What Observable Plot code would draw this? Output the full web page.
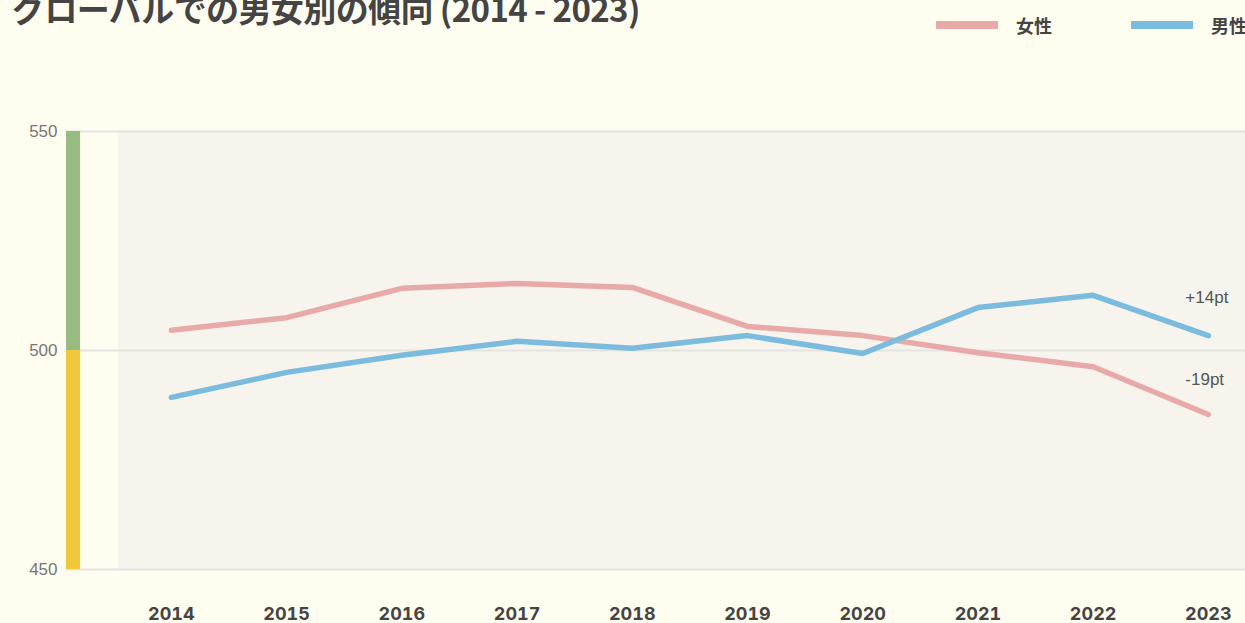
<!DOCTYPE html>
<html><head><meta charset="utf-8">
<script src="https://cdn.jsdelivr.net/npm/d3@7"></script>
<script src="https://cdn.jsdelivr.net/npm/@observablehq/plot@0.6"></script>
<style>
html,body{margin:0;padding:0;background:#fffdf0;overflow:hidden;width:1245px;height:623px;}
#wrap{position:relative;width:1245px;height:623px;overflow:hidden;font-family:"Noto Sans CJK JP","Noto Sans",sans-serif;}
#title{position:absolute;left:12px;top:-16px;font-size:33px;font-weight:700;color:#444;white-space:nowrap;letter-spacing:-0.6px;}
.leg{position:absolute;top:12px;display:flex;align-items:center;white-space:nowrap;}
.sw{width:62px;height:8px;margin-right:18px;}
.lt{font-size:18px;font-weight:700;color:#444;}
#chart{position:absolute;left:0;top:0;width:1262px;}
#chart svg{max-width:none !important;}
</style></head><body>
<div id="wrap">
<div id="title">グローバルでの男女別の傾向 (2014 - 2023)</div>
<div id="legend"></div>
<div id="chart"></div>
</div>
<script>
const years = [2014,2015,2016,2017,2018,2019,2020,2021,2022,2023];
const female = [504.6,507.5,514.2,515.3,514.4,505.5,503.4,499.5,496.3,485.4];
const male = [489.3,495.0,498.9,502.1,500.5,503.4,499.3,509.8,512.6,503.4];
const seriesNames = ["女性","男性"];
const seriesColors = ["#e8aaa8","#7bbbdd"];
const yTicks = [450,500,550];
const bandLo = [450,500];
const bandHi = [500,550];
const bandColors = ["#f0c93a","#97bb80"];
const endLabels = ["-19pt","+14pt"];

// legend
const legend = document.getElementById("legend");
const legLeft = [936,1131];
seriesNames.forEach((n,i)=>{
  const d=document.createElement("div");
  d.className="leg"; d.style.left=legLeft[i]+"px";
  d.innerHTML=`<div class="sw" style="background:${seriesColors[i]}"></div><span class="lt">${n}</span>`;
  legend.appendChild(d);
});

const rows = [];
years.forEach((y,i)=>{
  rows.push({year:y,value:female[i],series:seriesNames[0]});
  rows.push({year:y,value:male[i],series:seriesNames[1]});
});
const bands = bandLo.map((lo,i)=>({lo,hi:bandHi[i],color:bandColors[i]}));
const x0 = 2013.09, x1 = 2023.47;
const lastF = [{year:years[years.length-1],value:female[female.length-1],label:endLabels[0]}];
const lastM = [{year:years[years.length-1],value:male[male.length-1],label:endLabels[1]}];
const labelFont = "'Liberation Sans',Arial,sans-serif";

const plot = Plot.plot({
  width:1262, height:640,
  marginTop:131, marginBottom:71, marginLeft:66, marginRight:0,
  style:{background:"transparent",fontFamily:labelFont,maxWidth:"none"},
  x:{type:"linear",domain:[x0,x1],axis:null,label:null},
  y:{domain:[450,550],axis:null,label:null},
  color:{domain:seriesNames,range:seriesColors},
  marks:[
    Plot.rect([{}],{x1:2013.54,x2:x1,y1:450,y2:550,fill:"#f6f4ec"}),
    Plot.ruleY(yTicks,{stroke:"#e3e3e0",strokeWidth:2}),
    Plot.rect(bands,{x1:x0,x2:x0+0.122,y1:"lo",y2:"hi",fill:"color"}),
    Plot.line(rows,{x:"year",y:"value",z:"series",stroke:"series",strokeWidth:5.5,curve:"linear"}),
    Plot.text(lastF,{x:"year",y:"value",text:"label",dy:-35,dx:-23,textAnchor:"start",fontSize:17,fill:"#555"}),
    Plot.text(lastM,{x:"year",y:"value",text:"label",dy:-38,dx:-23,textAnchor:"start",fontSize:17,fill:"#555"}),
    Plot.axisY(yTicks,{tickSize:0,tickPadding:9,fontSize:17,color:"#777",anchor:"left",label:null}),
    Plot.axisX(years,{tickSize:0,tickPadding:38,fontSize:18,fontWeight:700,color:"#444",fontFamily:"Inter,'Noto Sans',sans-serif",tickFormat:d=>String(d),anchor:"bottom",label:null})
  ]
});
document.getElementById("chart").appendChild(plot);
</script>
</body></html>
